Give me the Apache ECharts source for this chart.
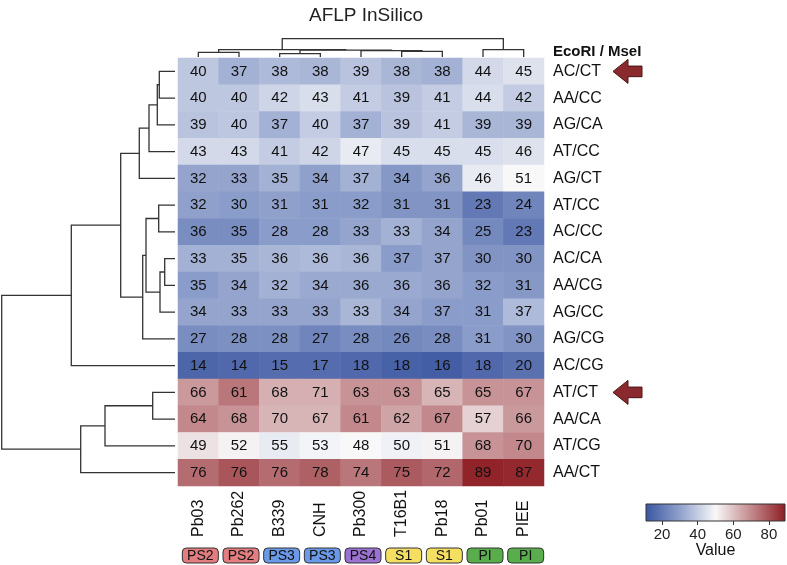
<!DOCTYPE html>
<html><head><meta charset="utf-8">
<script src="https://cdn.jsdelivr.net/npm/echarts@6/dist/echarts.min.js"></script>
<style>html,body{margin:0;padding:0;background:#fff}#c{width:787px;height:565px}</style>
</head><body><div id="c"></div>
<script>
// ---------- data ----------
const rowLabels = ['AC/CT','AA/CC','AG/CA','AT/CC','AG/CT','AT/CC','AC/CC','AC/CA','AA/CG','AG/CC','AG/CG','AC/CG','AT/CT','AA/CA','AT/CG','AA/CT'];
const colLabels = ['Pb03','Pb262','B339','CNH','Pb300','T16B1','Pb18','Pb01','PIEE'];
const colGroups = ['PS2','PS2','PS3','PS3','PS4','S1','S1','PI','PI'];
const values = [
  [40,37,38,38,39,38,38,44,45],
  [40,40,42,43,41,39,41,44,42],
  [39,40,37,40,37,39,41,39,39],
  [43,43,41,42,47,45,45,45,46],
  [32,33,35,34,37,34,36,46,51],
  [32,30,31,31,32,31,31,23,24],
  [36,35,28,28,33,33,34,25,23],
  [33,35,36,36,36,37,37,30,30],
  [35,34,32,34,36,36,36,32,31],
  [34,33,33,33,33,34,37,31,37],
  [27,28,28,27,28,26,28,31,30],
  [14,14,15,17,18,18,16,18,20],
  [66,61,68,71,63,63,65,65,67],
  [64,68,70,67,61,62,67,57,66],
  [49,52,55,53,48,50,51,68,70],
  [76,76,76,78,74,75,72,89,87]
];
// colour values as read from the cell shading (the picture's colours do not follow the printed numbers exactly)
const colorValues = [
  [39,34,36,35,38,35,34,43,45],
  [39,39,42,44,40,38,40,44,40],
  [38,39,34,40,34,38,40,35,35],
  [43,43,40,42,47,44,44,44,45],
  [31,31,34,30,34,28,31,47,50],
  [30,29,30,29,29,27,27,20,23],
  [25,25,29,29,31,34,31,24,20],
  [34,34,35,36,35,29,31,27,27],
  [29,31,34,32,32,32,31,29,28],
  [31,31,31,31,35,31,29,29,36],
  [25,26,26,23,25,24,25,29,27],
  [15,16,17,17,16,14,13,16,18],
  [67,73,63,63,68,68,62,68,68],
  [70,68,62,62,70,65,70,57,67],
  [54,51,47,49,50,48.5,51,68,70],
  [75,79,75,77,73,78,76,88,87]
];
// linkage: [childA, childB, mergeHeight]; leaves are 0..n-1, merged nodes n, n+1, ...
const rowLinkage = [
  [0,1,15.7],[16,2,17.7],[17,3,26],[18,4,35.7],
  [5,6,16.3],[7,8,10.3],[21,9,15],[20,22,29],[23,10,32.3],
  [19,24,54.3],[25,11,103.7],
  [12,13,22.3],[27,14,70],[28,15,94.3],
  [26,29,173.3]
];
const colLinkage = [
  [0,1,4.7],[2,3,3.3],[5,6,5.7],[4,11,6.3],[10,12,6.9],[9,13,7.3],[7,8,7.3],[14,15,18.3]
];
const arrowRows = [0, 12];
const colorbarTicks = [20, 40, 60, 80];
const colorMin = 11, colorMax = 89;

// ---------- styles ----------
const FONT = '"Liberation Sans", Arial, Helvetica, sans-serif';
const ramp = ['#3b56a1', '#91a2cc', '#f8f8f9', '#c38b8e', '#8d1e24'];
const groupColors = {PS2:'#e37d80', PS3:'#6a99e8', PS4:'#9b72d2', S1:'#f4df62', PI:'#5aad4c'};
const LINE = '#333';

function treeSegments(linkage, n) {
  const pos = [], h = [], segs = [];
  for (let i = 0; i < n; i++) { pos[i] = i; h[i] = 0; }
  linkage.forEach((m, k) => {
    const id = n + k, a = m[0], b = m[1], hh = m[2];
    pos[id] = (pos[a] + pos[b]) / 2; h[id] = hh;
    segs.push([[pos[a], h[a]], [pos[a], hh], [pos[b], hh], [pos[b], h[b]]]);
  });
  return segs;
}
const rowSegs = treeSegments(rowLinkage, rowLabels.length);
const colSegs = treeSegments(colLinkage, colLabels.length);

const heatData = [];
values.forEach((row, r) => row.forEach((v, c) => heatData.push([c, r, v, colorValues[r][c]])));

const G = { left: 178, top: 58, width: 366, height: 428 };
const chart = echarts.init(document.getElementById('c'), null, {renderer: 'canvas'});
const hidden = {show: false};

chart.setOption({
  animation: false,
  backgroundColor: '#fff',
  textStyle: {fontFamily: FONT},
  title: {text: 'AFLP InSilico', left: 361, top: 1, textAlign: 'center',
    textStyle: {fontSize: 19, fontWeight: 'normal', color: '#222', fontFamily: FONT}},
  graphic: [{type: 'text', left: 553, top: 44,
    style: {text: 'EcoRI / MseI', font: 'bold 15px ' + FONT, fill: '#111'}}],
  grid: [
    {left: G.left, top: G.top, width: G.width, height: G.height},
    {left: 0, top: G.top, width: 175, height: G.height},
    {left: G.left, top: 36, width: G.width, height: 21},
    {left: 613, top: G.top, width: 29, height: G.height},
    {left: 646, top: 504, width: 139, height: 17},
    {left: G.left + 2, top: 548, width: G.width, height: 15}
  ],
  xAxis: [
    {type: 'category', gridIndex: 0, data: colLabels, axisLine: hidden, axisTick: hidden,
      axisLabel: {interval: 0, rotate: 90, align: 'left', verticalAlign: 'middle', margin: 51,
        fontSize: 16, color: '#111', fontFamily: FONT}},
    {type: 'value', gridIndex: 1, min: 0, max: 175, inverse: true, show: false},
    {type: 'value', gridIndex: 2, min: -0.5, max: 8.5, show: false},
    {type: 'value', gridIndex: 3, min: 0, max: 1, show: false},
    {type: 'value', gridIndex: 4, min: colorMin, max: colorMax, axisLine: hidden, splitLine: hidden,
      axisTick: {show: true, customValues: colorbarTicks, length: 4, lineStyle: {color: '#333'}},
      axisLabel: {customValues: colorbarTicks, fontSize: 15, margin: 6, color: '#222', fontFamily: FONT},
      name: 'Value', nameLocation: 'middle', nameGap: 21,
      nameTextStyle: {fontSize: 16, color: '#111', fontFamily: FONT}},
    {type: 'value', gridIndex: 5, min: -0.5, max: 8.5, show: false}
  ],
  yAxis: [
    {type: 'category', gridIndex: 0, data: rowLabels, inverse: true, position: 'right',
      axisLine: hidden, axisTick: hidden,
      axisLabel: {interval: 0, fontSize: 16, margin: 9, color: '#111', fontFamily: FONT}},
    {type: 'value', gridIndex: 1, min: -0.5, max: 15.5, inverse: true, show: false},
    {type: 'value', gridIndex: 2, min: 0, max: 21, show: false},
    {type: 'value', gridIndex: 3, min: -0.5, max: 15.5, inverse: true, show: false},
    {type: 'value', gridIndex: 4, min: 0, max: 1, show: false},
    {type: 'value', gridIndex: 5, min: 0, max: 1, show: false}
  ],
  visualMap: {type: 'continuous', show: false, min: colorMin, max: colorMax, dimension: 3,
    seriesIndex: 0, inRange: {color: ramp}},
  series: [
    {type: 'heatmap', xAxisIndex: 0, yAxisIndex: 0, data: heatData,
      label: {show: true, formatter: p => p.value[2], fontSize: 15, color: '#111', fontFamily: FONT},
      emphasis: {disabled: true}},
    {type: 'custom', xAxisIndex: 1, yAxisIndex: 1, clip: false, silent: true,
      data: rowSegs.map((s, i) => [i, 0]),
      renderItem: (params, api) => ({type: 'polyline',
        shape: {points: rowSegs[params.dataIndex].map(p => api.coord([p[1], p[0]]))},
        style: {stroke: LINE, lineWidth: 1.3, fill: null}})},
    {type: 'custom', xAxisIndex: 2, yAxisIndex: 2, clip: false, silent: true,
      data: colSegs.map((s, i) => [i, 0]),
      renderItem: (params, api) => ({type: 'polyline',
        shape: {points: colSegs[params.dataIndex].map(p => api.coord([p[0], p[1]]))},
        style: {stroke: LINE, lineWidth: 1.3, fill: null}})},
    {type: 'custom', xAxisIndex: 3, yAxisIndex: 3, clip: false, silent: true,
      data: arrowRows.map(r => [0, r]),
      renderItem: (params, api) => {
        const a = api.coord([0, api.value(1)]), b = api.coord([1, api.value(1)]);
        const x0 = a[0], x1 = b[0], cy = a[1], hx = x0 + 15;
        return {type: 'polygon',
          shape: {points: [[x0, cy], [hx, cy - 12], [hx, cy - 5.3], [x1, cy - 5.3], [x1, cy + 5.3], [hx, cy + 5.3], [hx, cy + 12]]},
          style: {fill: '#8b2a2e', stroke: '#4a1414', lineWidth: 1}};
      }},
    {type: 'custom', xAxisIndex: 4, yAxisIndex: 4, clip: false, silent: true,
      data: [[colorMin, 0]],
      renderItem: (params, api) => {
        const p0 = api.coord([colorMin, 1]), p1 = api.coord([colorMax, 0]);
        return {type: 'rect',
          shape: {x: p0[0], y: p0[1], width: p1[0] - p0[0], height: p1[1] - p0[1]},
          style: {fill: new echarts.graphic.LinearGradient(0, 0, 1, 0,
            ramp.map((c, i) => ({offset: i / (ramp.length - 1), color: c}))),
            stroke: '#333', lineWidth: 1}};
      }},
    {type: 'custom', xAxisIndex: 5, yAxisIndex: 5, clip: false, silent: true,
      data: colGroups.map((g, i) => [i, 0.5]),
      renderItem: (params, api) => {
        const c = api.coord([api.value(0), 0.5]);
        const g = colGroups[params.dataIndex];
        return {type: 'group', children: [
          {type: 'rect', shape: {x: c[0] - 18, y: c[1] - 7.5, width: 36, height: 15, r: 4},
            style: {fill: groupColors[g], stroke: '#333', lineWidth: 1}},
          {type: 'text', x: c[0], y: c[1] + 0.5,
            style: {text: g, font: '14px ' + FONT, fill: '#111', align: 'center', verticalAlign: 'middle'}}
        ]};
      }}
  ]
});
</script></body></html>
